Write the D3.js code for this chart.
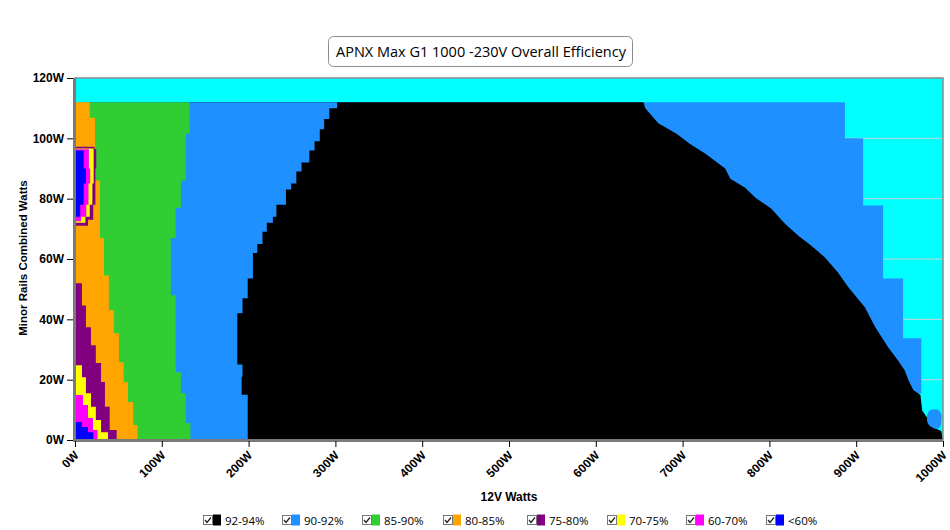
<!DOCTYPE html>
<html>
<head>
<meta charset="utf-8">
<script src="https://cdn.jsdelivr.net/npm/d3@7"></script>
<style>
	body { margin: 0; background: #fff; }
	svg { display: block; }
	.tick text { font-family: "Liberation Sans", Arial, sans-serif; font-weight: bold; font-size: 12px; fill: #000; }
	.label { font-family: "Liberation Sans", Arial, sans-serif; font-weight: bold; font-size: 12px; }
	.legend text { font-family: "Open Sans", sans-serif; font-size: 11.5px; }
</style>
</head>
<body>
<svg width="950" height="530"></svg>
<script>
// Tick values of both axes
const xTicks = [0, 100, 200, 300, 400, 500, 600, 700, 800, 900, 1000];
const yTicks = [0, 20, 40, 60, 80, 100, 120];

// Efficiency bands (legend order) and their colours
const bands = ["92-94%", "90-92%", "85-90%", "80-85%", "75-80%", "70-75%", "60-70%", "<60%"];
const bandColors = ["#000000", "#1e90ff", "#32cd32", "#ffa500", "#800080", "#ffff00", "#ff00ff", "#0000ff"];

// Region edges: [minor rails W, 12V W]
// each edge marks the right hand side of a region, from the bottom up
const blueOuterEdge = [[0, 960], [15.5, 975], [33.7, 954], [53.5, 931], [77.7, 908], [100, 887], [112, 887]];
const blackOuterEdge = [[0, 1000], [3, 998], [4, 990], [9.8, 976], [15, 974], [16.5, 966], [20, 960], [23, 956],
	[26.4, 948], [30.7, 937], [37.4, 922], [44, 910], [50.6, 891], [55.5, 879], [60.5, 864], [64.5, 848],
	[67.8, 833], [71.7, 818], [76.7, 802], [80.3, 784], [83.6, 772], [86.6, 755], [90, 749], [95, 726],
	[98, 709], [101.5, 693], [105, 672], [110, 657], [112, 655]];
const blackInnerEdge = [[0, 199], [15, 192], [21, 193], [25, 187], [42, 193], [47, 199], [53.5, 205], [62, 210],
	[65, 216], [69, 221], [72, 228], [74, 232], [78, 243], [83, 249], [85, 255], [89, 261], [92, 270],
	[96, 276], [99, 282], [103, 287], [106.4, 293], [110, 302], [112, 302]];
const greenEdge = [[0, 133], [5.6, 127.6], [15.5, 122], [22.5, 116], [48, 110.3], [67, 116], [77, 122],
	[86, 127.6], [101.5, 132], [112, 132]];
const orangeEdge = [[0, 72], [5, 67], [12.6, 61], [19.2, 56], [25.8, 50.6], [35.4, 44.8], [43, 39],
	[54.5, 33.3], [67, 28.7], [86, 23], [106.8, 17], [112, 17]];
const purpleEdge = [[0, 48], [3.3, 40], [11, 34.5], [19.2, 30], [25.5, 24], [31.4, 18.4], [37.4, 12.6], [44.6, 8], [52, 8]];
const yellowEdge = [[0, 38], [2.6, 30], [6.6, 24], [11, 18.4], [15.5, 12.6], [20.8, 8], [24.8, 8]];
const magentaEdge = [[0, 26], [3.3, 20.7], [7.3, 15], [11.6, 9.2], [14.9, 9.2]];
const under60Edge = [[0, 21], [2.6, 15], [4.3, 8], [6, 8]];

// The low efficiency island near 80W minor rails
const islandPurple = [[71, 15], [73, 21], [78, 23.5], [90, 24.5], [96.5, 22.5], [97.2, 22.5]];
const islandYellow = [[72, 12], [74, 17], [78, 20], [85, 21.5], [96.6, 21]];
const islandMagenta = [[72.5, 7], [74, 13], [78, 15.5], [85, 17.5], [90, 16], [96.4, 15.5]];
const islandUnder60 = [[74, 6], [78, 10], [85, 12.6], [90, 10], [96, 10]];

// Small 90-92% spot close to full load: [minor W, from 12V W, to 12V W]
const blueSpot = [[3.8, 990, 995], [4.6, 985, 997], [6, 982, 998], [8.5, 982, 998], [9.6, 984, 996], [10.2, 988, 993]];

const svg = d3.select("svg");
const plotLeft = 75, plotRight = 943, plotTop = 78, plotBottom = 440;

const x = d3.scaleLinear().domain([0, 1000]).range([plotLeft, plotRight]);
const y = d3.scaleLinear().domain([0, 120]).range([plotBottom, plotTop]);

// Plot background (the area above 94%/no data is cyan)
svg.append("rect")
	.attr("x", plotLeft).attr("y", plotTop)
	.attr("width", plotRight - plotLeft).attr("height", plotBottom - plotTop)
	.attr("fill", "#00ffff");

// Horizontal grid lines, only seen through the cyan
svg.append("g")
	.selectAll("line")
	.data(yTicks.slice(1, -1))
	.join("line")
	.attr("x1", plotLeft).attr("x2", plotRight)
	.attr("y1", d => y(d)).attr("y2", d => y(d))
	.attr("stroke", "#d0d0d0")
	.attr("stroke-width", 1);

const plot = svg.append("g");

// Area from the left axis to an edge, stepped the way the chart is
function edgeArea(curve) {
	return d3.area()
		.curve(curve)
		.y(d => y(d[0]))
		.x0(x(0))
		.x1(d => x(d[1]));
}
const stepped = edgeArea(d3.curveStepBefore);
const smooth = edgeArea(d3.curveLinear);

const layers = [
	[blueOuterEdge, bandColors[1], stepped],
	[blackOuterEdge, bandColors[0], smooth],
	[blackInnerEdge, bandColors[1], stepped],
	[greenEdge, bandColors[2], stepped],
	[orangeEdge, bandColors[3], stepped],
	[purpleEdge, bandColors[4], stepped],
	[yellowEdge, bandColors[5], stepped],
	[magentaEdge, bandColors[6], stepped],
	[under60Edge, bandColors[7], stepped],
	[islandPurple, bandColors[4], stepped],
	[islandYellow, bandColors[5], stepped],
	[islandMagenta, bandColors[6], stepped],
	[islandUnder60, bandColors[7], stepped]
];

layers.forEach(([edge, color, gen]) => {
	plot.append("path")
		.attr("d", gen(edge))
		.attr("fill", color);
});

plot.append("path")
	.attr("d", d3.area()
		.curve(d3.curveCatmullRom)
		.y(d => y(d[0]))
		.x0(d => x(d[1]))
		.x1(d => x(d[2]))(blueSpot))
	.attr("fill", bandColors[1]);

// Frame round the plot
svg.append("rect")
	.attr("x", plotLeft).attr("y", plotTop)
	.attr("width", plotRight - plotLeft).attr("height", plotBottom - plotTop)
	.attr("fill", "none")
	.attr("stroke", "#8a8a8a")
	.attr("stroke-width", 1.5);
svg.append("path")
	.attr("d", `M${plotLeft - 0.5},${plotTop} V${plotBottom + 0.5} H${plotRight}`)
	.attr("fill", "none")
	.attr("stroke", "#7a7a7a")
	.attr("stroke-width", 3);

// Axes
const yAxis = d3.axisLeft(y)
	.tickValues(yTicks)
	.tickFormat(d => d + "W")
	.tickSize(6)
	.tickPadding(3);
const yg = svg.append("g")
	.attr("transform", `translate(${plotLeft - 2},0)`)
	.call(yAxis);
yg.select(".domain").remove();

const xAxis = d3.axisBottom(x)
	.tickValues(xTicks)
	.tickFormat(d => d + "W")
	.tickSize(6);
const xg = svg.append("g")
	.attr("transform", `translate(0,${plotBottom + 1})`)
	.call(xAxis);
xg.select(".domain").remove();
xg.selectAll(".tick text")
	.attr("x", 0).attr("y", 0).attr("dy", "0.35em")
	.attr("transform", "translate(1,12) rotate(-45)")
	.style("text-anchor", "end");

svg.append("text")
	.attr("class", "label")
	.attr("x", 509).attr("y", 501)
	.attr("text-anchor", "middle")
	.text("12V Watts");

svg.append("text")
	.attr("class", "label")
	.attr("transform", "translate(27,258) rotate(-90)")
	.attr("text-anchor", "middle")
	.style("font-size", "11.5px")
	.text("Minor Rails Combined Watts");

// Title in its rounded box
svg.append("rect")
	.attr("x", 328.5).attr("y", 36.5)
	.attr("width", 304).attr("height", 30)
	.attr("rx", 5)
	.attr("fill", "#fff")
	.attr("stroke", "#8c8c8c");
svg.append("text")
	.attr("x", 481).attr("y", 57)
	.attr("text-anchor", "middle")
	.style("font-family", "'Open Sans', sans-serif")
	.style("font-size", "14.5px")
	.text("APNX Max G1 1000 -230V Overall Efficiency");

// Legend with its check boxes
const legendX = [203, 282, 362, 443, 527, 607, 686, 766];
const legend = svg.append("g").attr("class", "legend");
bands.forEach((b, i) => {
	const g = legend.append("g").attr("transform", `translate(${legendX[i]},515)`);
	g.append("rect")
		.attr("x", 0.5).attr("y", 0.5)
		.attr("width", 9).attr("height", 9)
		.attr("fill", "#fff")
		.attr("stroke", "#777");
	g.append("path")
		.attr("d", "M2,5 L4,7.5 L8,2.5")
		.attr("fill", "none")
		.attr("stroke", "#222")
		.attr("stroke-width", 1.3);
	g.append("rect")
		.attr("x", 10).attr("y", -0.5)
		.attr("width", 8).attr("height", 11)
		.attr("fill", bandColors[i]);
	g.append("text")
		.attr("x", 22).attr("y", 9.5)
		.text(b);
});
</script>
</body>
</html>
